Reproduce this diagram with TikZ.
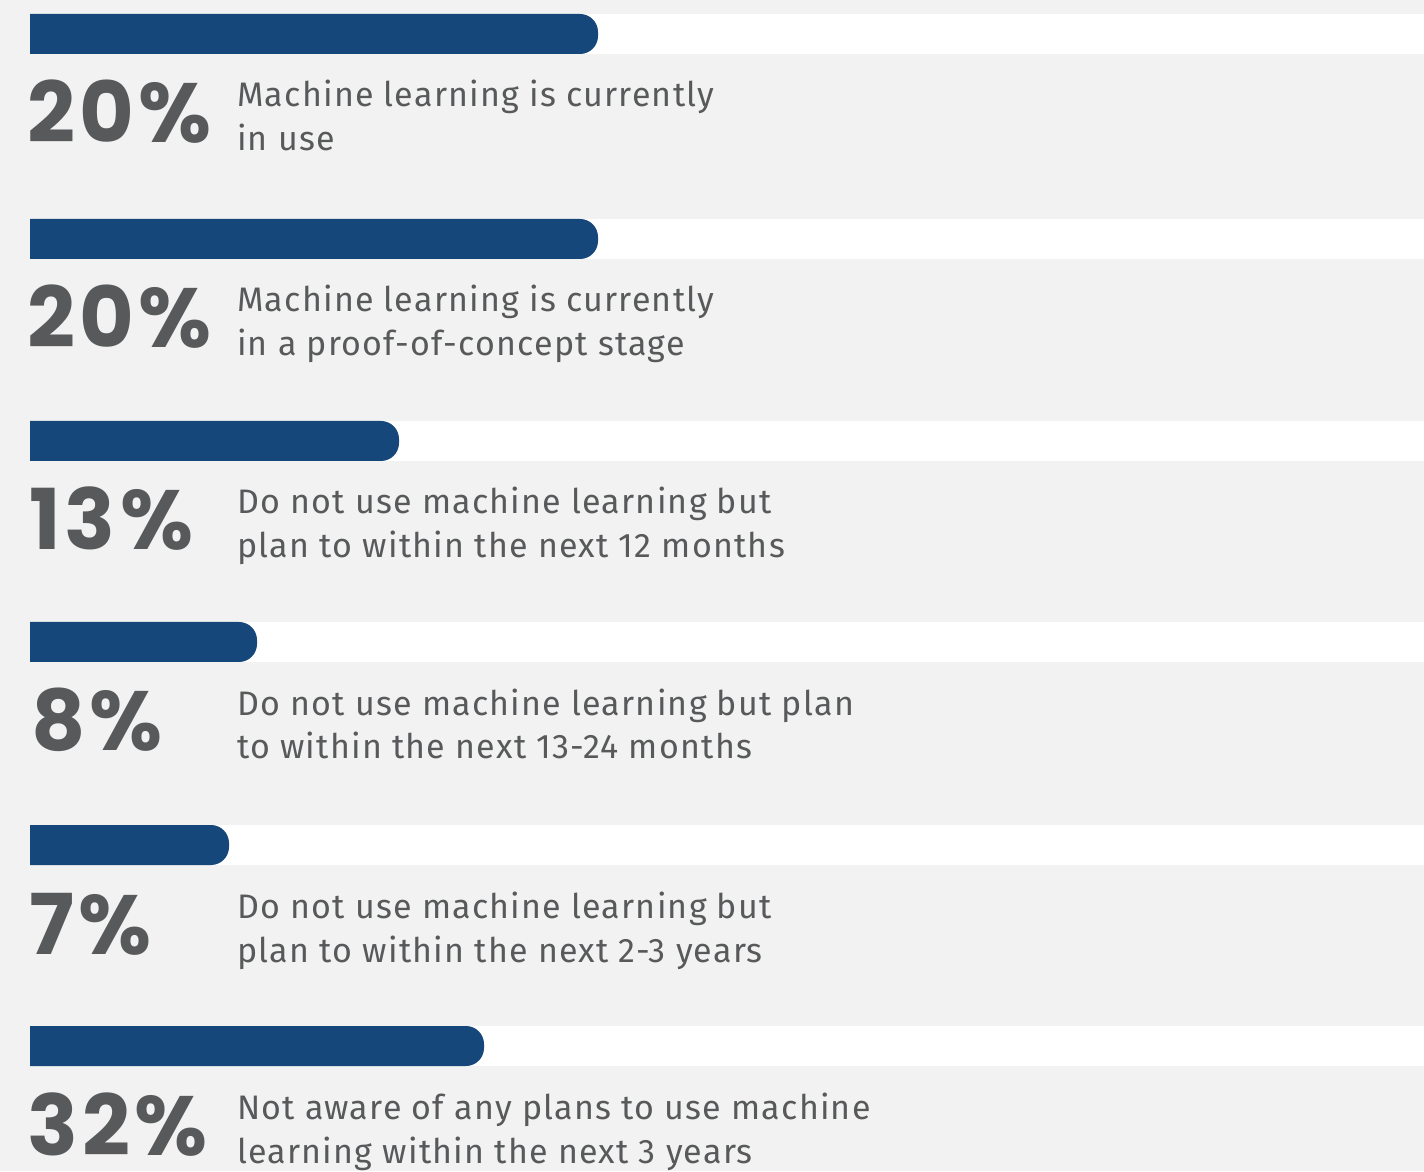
\documentclass[tikz,border=0pt]{standalone}
\usepackage{fontspec}
\setmainfont{Fira Sans}
\newfontfamily\lblfont{Fira Sans}[LetterSpace=3.6]
\newfontfamily\pctfont{Poppins Bold}[LetterSpace=5]
\definecolor{bg}{HTML}{F1F2F1}
\definecolor{barcol}{HTML}{15477B}
\definecolor{txt}{HTML}{58595B}
\tikzset{
  lbl/.style={anchor=base west, inner sep=0pt, text=txt, align=left,
    font=\lblfont\fontsize{34}{44}\selectfont},
  pct/.style={anchor=base west, inner sep=0pt, text=txt,
    font=\pctfont\fontsize{84}{84}\selectfont},
}
\newcommand{\mybarrow}[3]{% right end, top (y up), name
  \fill[white] (#1-20,#2) rectangle (1424,#2-40);
  \fill[barcol] (30,#2) -- (#1-18,#2) arc[start angle=90,end angle=0,radius=18]
    -- (#1,#2-22) arc[start angle=0,end angle=-90,radius=18] -- (30,#2-40) -- cycle;
  \coordinate (#3) at (#1,#2);
}
\begin{document}
\begin{tikzpicture}[x=1pt,y=1pt]
\useasboundingbox (0,0) rectangle (1424,1171);
\clip (0,0) rectangle (1424,1171);
\fill[bg] (0,0) rectangle (1424,1171);
\mybarrow{598}{1157}{b1}
\mybarrow{598}{952}{b2}
\mybarrow{399}{750}{b3}
\mybarrow{257}{549}{b4}
\mybarrow{229}{346}{b5}
\mybarrow{484}{145}{b6}
\node[pct] (p1) at (27,1028) {20\%};
\node[lbl] (t1) at (237,1020) {Machine learning is currently\\in use};
\node[pct] (p2) at (27,823) {20\%};
\node[lbl] (t2) at (237,815) {Machine learning is currently\\in a proof-of-concept stage};
\node[pct] (p3) at (29,621) {13\%};
\node[lbl] (t3) at (237,613) {Do not use machine learning but\\plan to within the next 12 months};
\node[pct] (p4) at (31,420) {8\%};
\node[lbl] (t4) at (237,412) {Do not use machine learning but plan\\to within the next 13-24 months};
\node[pct] (p5) at (29,217) {7\%};
\node[lbl] (t5) at (237,209) {Do not use machine learning but\\plan to within the next 2-3 years};
\node[pct] (p6) at (27,16) {32\%};
\node[lbl] (t6) at (237,8) {Not aware of any plans to use machine\\learning within the next 3 years};
\end{tikzpicture}
\end{document}
